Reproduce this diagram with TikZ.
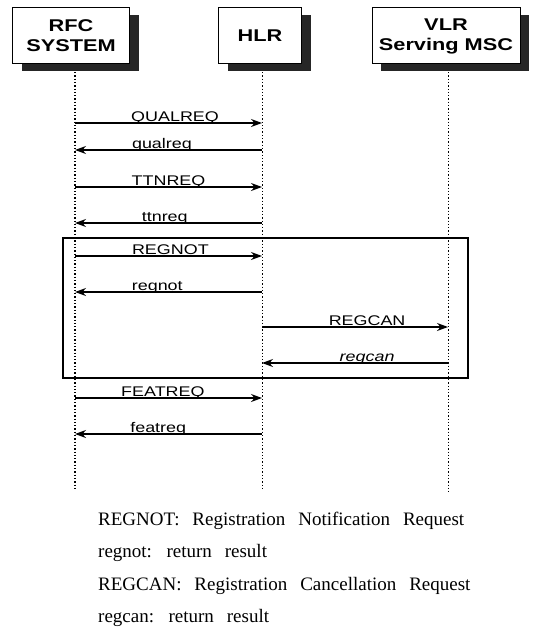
\documentclass[tikz,border=0pt]{standalone}
\usepackage{fontspec}
\setmainfont{Liberation Serif}
\newfontfamily\arialx[FakeStretch=1.28]{Liberation Sans}
\usetikzlibrary{arrows.meta,shadows}
\begin{document}
\begin{tikzpicture}[x=1pt,y=-1pt,
  actor/.style={draw, line width=1pt, fill=white, align=center, inner sep=0pt,
    minimum height=56pt, font=\arialx\bfseries\fontsize{17}{20}\selectfont,
    drop shadow={shadow xshift=9pt, shadow yshift=-7pt, fill=black!85, opacity=1}},
  life/.style={line width=1.3pt, dotted},
  msg/.style={line width=1.1pt, -{Stealth[length=11pt,width=8pt]}},
  rmsg/.style={line width=1.1pt, {Stealth[length=11pt,width=8pt]}-},
  lbl/.style={anchor=base, inner sep=0pt, yshift=2pt, font=\arialx\fontsize{14}{16}\selectfont},
  frame/.style={draw, line width=1.1pt},
  note/.style={anchor=base west, inner sep=0pt, font=\fontsize{19}{21}\selectfont}]
\useasboundingbox (0,0) rectangle (534,634);
\node[actor, minimum width=117pt] (rfc) at (71,36) {RFC\\SYSTEM};
\node[actor, minimum width=83pt] (hlr) at (260,36) {HLR};
\node[actor, minimum width=148pt] (vlr) at (446,36) {VLR\\Serving MSC};
\coordinate (rt) at (75,72); \coordinate (rb) at (75,490);
\coordinate (ht) at (262,72); \coordinate (hb) at (262,490);
\coordinate (vt) at (448,72); \coordinate (vb) at (448,492);
\draw[life] (rt) -- (rb);
\draw[life, line width=1pt] (ht) -- (hb);
\draw[life, line width=0.8pt] (vt) -- (vb);
\draw[msg] (rt |- 0,123) -- node[lbl, pos=0.535] {QUALREQ} (ht |- 0,123);
\draw[rmsg] (rt |- 0,150) -- node[lbl, pos=0.465] {qualreq} (ht |- 0,150);
\draw[msg] (rt |- 0,187) -- node[lbl, pos=0.5] {TTNREQ} (ht |- 0,187);
\draw[rmsg] (rt |- 0,223) -- node[lbl, pos=0.48] {ttnreq} (ht |- 0,223);
\draw[msg] (rt |- 0,256) -- node[lbl, pos=0.51] {REGNOT} (ht |- 0,256);
\draw[rmsg] (rt |- 0,292) -- node[lbl, pos=0.44] {regnot} (ht |- 0,292);
\draw[msg] (ht |- 0,327) -- node[lbl, pos=0.565] {REGCAN} (vt |- 0,327);
\draw[rmsg] (ht |- 0,363) -- node[lbl, pos=0.565] {\itshape regcan} (vt |- 0,363);
\draw[msg] (rt |- 0,398) -- node[lbl, pos=0.47] {FEATREQ} (ht |- 0,398);
\draw[rmsg] (rt |- 0,434) -- node[lbl, pos=0.445] {featreq} (ht |- 0,434);
\node[frame, minimum width=405pt, minimum height=140pt, inner sep=0pt] (box) at (265.5,308) {};
\node[note] (n1) at (98,525) {\spaceskip=0.68em REGNOT: Registration Notification Request};
\node[note] (n2) at (98,557) {\spaceskip=0.68em regnot: return result};
\node[note] (n3) at (98,590) {\spaceskip=0.68em REGCAN: Registration Cancellation Request};
\node[note] (n4) at (98,622) {\spaceskip=0.68em regcan: return result};
\end{tikzpicture}
\end{document}
